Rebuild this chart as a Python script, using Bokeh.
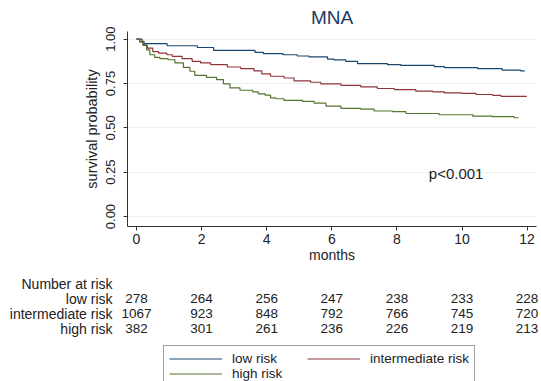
import numpy as np
from bokeh.plotting import figure
from bokeh.layouts import column
from bokeh.models import (Range1d, FixedTicker, Legend, LegendItem, Label,
                          ColumnDataSource, NumeralTickFormatter)
from bokeh.embed import file_html
from bokeh.resources import INLINE
from bokeh.core.properties import value

# ---------------- data ----------------
group_names = ["low risk", "intermediate risk", "high risk"]
group_colors = ["#1a476f", "#90353b", "#55752f"]

low_t = [0, 0.17, 0.23, 0.94, 1.87, 2.37, 3.64, 3.9, 4.5, 4.94, 5.3, 5.87, 6.07,
         6.43, 6.79, 7.71, 8.12, 9.15, 9.46, 10.48, 11.23, 11.8, 11.93]
low_s = [1.0, 0.988, 0.975, 0.963, 0.953, 0.937, 0.926, 0.919, 0.912, 0.905, 0.90,
         0.888, 0.883, 0.875, 0.862, 0.856, 0.852, 0.845, 0.84, 0.834, 0.826, 0.821, 0.821]

mid_t = [0, 0.1, 0.2, 0.33, 0.5, 0.68, 0.93, 1.1, 1.4, 1.71, 1.97, 2.28, 2.79, 3.2,
         3.61, 3.85, 4.12, 4.53, 4.84, 5.35, 5.66, 6.28, 6.89, 7.4, 7.92, 8.58, 9.1,
         9.46, 10.0, 10.43, 10.94, 11.2, 11.99]
mid_s = [1.0, 0.985, 0.965, 0.95, 0.93, 0.921, 0.912, 0.903, 0.89, 0.875, 0.866, 0.856,
         0.843, 0.834, 0.821, 0.804, 0.791, 0.781, 0.765, 0.757, 0.748, 0.740, 0.731,
         0.722, 0.716, 0.707, 0.703, 0.697, 0.694, 0.688, 0.683, 0.677, 0.677]

high_t = [0, 0.1, 0.2, 0.31, 0.41, 0.56, 0.72, 0.97, 1.18, 1.44, 1.64, 1.79, 2.15, 2.46,
          2.67, 2.87, 3.18, 3.57, 3.74, 3.95, 4.12, 4.28, 4.53, 5.1, 5.46, 5.82, 6.28,
          6.89, 7.3, 7.87, 8.28, 9.3, 10.33, 10.94, 11.6, 11.74]
high_s = [1.0, 0.985, 0.968, 0.94, 0.912, 0.897, 0.89, 0.884, 0.866, 0.841, 0.819, 0.796,
          0.785, 0.772, 0.748, 0.725, 0.712, 0.703, 0.692, 0.684, 0.669, 0.664, 0.655,
          0.649, 0.639, 0.623, 0.61, 0.606, 0.595, 0.591, 0.581, 0.574, 0.566, 0.563,
          0.557, 0.557]

risk_months = [0, 2, 4, 6, 8, 10, 12]
risk_low = [278, 264, 256, 247, 238, 233, 228]
risk_mid = [1067, 923, 848, 792, 766, 745, 720]
risk_high = [382, 301, 261, 236, 226, 219, 213]

y_ticks = [0, 0.25, 0.5, 0.75, 1.0]
x_ticks = [0, 2, 4, 6, 8, 10, 12]

# ---------------- styles ----------------
FONT = "Liberation Sans"
TXT = "#222222"
PPM = 32.55          # pixels per month
X0 = 136             # pixel of month 0
FRAME_L, FRAME_R = 127, 536

p = figure(width=541, height=268, output_backend="svg", toolbar_location=None,
           x_range=Range1d((FRAME_L - X0) / PPM, (FRAME_R - X0) / PPM),
           y_range=Range1d(-0.0561, 1.0432),
           min_border_left=127, min_border_right=5, min_border_top=30, min_border_bottom=42,
           title="MNA")
p.frame_align = False
p.title.align = "center"
p.title.text_font = FONT
p.title.text_font_size = "19px"
p.title.text_font_style = "normal"
p.title.text_color = "#1c3b63"
p.title.standoff = 8
p.outline_line_color = None
p.xgrid.grid_line_color = None
p.ygrid.grid_line_color = "#eaf2f3"
p.ygrid.ticker = FixedTicker(ticks=y_ticks)

p.xaxis.ticker = FixedTicker(ticks=x_ticks)
p.yaxis.ticker = FixedTicker(ticks=y_ticks)
p.yaxis.formatter = NumeralTickFormatter(format="0.00")
p.yaxis.major_label_orientation = "vertical"
p.xaxis.axis_label = "months"
p.yaxis.axis_label = "survival probability"
for ax in (p.xaxis, p.yaxis):
    ax.axis_line_color = "#333333"
    ax.major_tick_line_color = "#333333"
    ax.major_tick_out = 4
    ax.major_tick_in = 0
    ax.minor_tick_line_color = None
    ax.major_label_text_font = FONT
    ax.major_label_text_color = TXT
    ax.axis_label_text_font = FONT
    ax.axis_label_text_font_style = "normal"
    ax.axis_label_text_color = TXT
p.xaxis.major_label_text_font_size = "14px"
p.yaxis.major_label_text_font_size = "13px"
p.xaxis.axis_label_text_font_size = "14px"
p.yaxis.axis_label_text_font_size = "14.5px"
p.xaxis.major_label_standoff = 3
p.xaxis.axis_label_standoff = 0
p.yaxis.major_label_standoff = 8
p.yaxis.axis_label_standoff = 4

for tt, ss, col in zip([low_t, mid_t, high_t], [low_s, mid_s, high_s], group_colors):
    p.step(tt, ss, mode="after", line_color=col, line_width=1.2)

p.add_layout(Label(x=8.98, y=0.24, text="p<0.001", text_font=FONT, text_font_size="15px",
                   text_color=TXT, text_baseline="middle", text_align="left"))

# ---------------- number at risk table + legend ----------------
t = figure(width=541, height=113, output_backend="svg", toolbar_location=None,
           x_range=Range1d(-X0 / PPM, (541 - X0) / PPM), y_range=Range1d(113, 0),
           min_border=0, min_border_left=0, min_border_right=0, min_border_top=0,
           min_border_bottom=0, x_axis_location=None, y_axis_location=None)
t.frame_align = False
t.grid.visible = False
t.outline_line_color = None

row_y = [30, 45, 60]
label_x = (112 - X0) / PPM
t.text(x=[label_x], y=[15], text=["Number at risk"], text_font=value(FONT),
       text_font_size="14px", text_color=TXT, text_align="right", text_baseline="middle")
t.text(x=[label_x] * 3, y=row_y, text=group_names, text_font=value(FONT),
       text_font_size="14px", text_color=TXT, text_align="right", text_baseline="middle")
for yy, counts in zip(row_y, [risk_low, risk_mid, risk_high]):
    src = ColumnDataSource(dict(x=risk_months, y=[yy] * len(counts),
                                txt=[str(c) for c in counts]))
    t.text(x="x", y="y", text="txt", source=src, text_font=value(FONT),
           text_font_size="13.5px", text_color=TXT, text_align="center",
           text_baseline="middle")

dummies = [t.line([np.nan], [np.nan], line_color=c, line_width=1.2) for c in group_colors]
legend = Legend(items=[LegendItem(label=n, renderers=[r]) for n, r in zip(group_names, dummies)],
                ncols=2, location=(163, -6), orientation="horizontal")
legend.label_text_font = FONT
legend.label_text_font_size = "13.5px"
legend.label_text_color = TXT
legend.glyph_width = 53
legend.glyph_height = 13
legend.label_height = 13
legend.label_width = 75
legend.label_standoff = 10
legend.spacing = 0
legend.padding = 5
legend.margin = 0
legend.border_line_color = "#444444"
legend.border_line_width = 1
legend.background_fill_alpha = 1
t.add_layout(legend)

layout = column(p, t, spacing=0)
open("out.html", "w").write(file_html(layout, INLINE))
